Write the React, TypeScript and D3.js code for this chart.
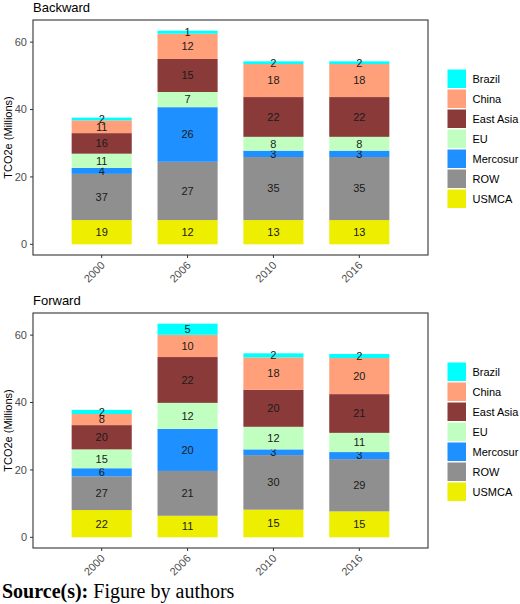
import React from 'react';
import * as d3 from 'd3';

const years = ['2000', '2006', '2010', '2016'];
const regions = ['Brazil', 'China', 'East Asia', 'EU', 'Mercosur', 'ROW', 'USMCA'];
const colors = ['#00FFFF', '#FFA07A', '#8B3A3A', '#C1FFC1', '#1E90FF', '#8F8F8F', '#EEEE00'];
const yTicks = [0, 20, 40, 60];

// TCO2e (millions) per region, per year: 2000, 2006, 2010, 2016
const backBrazil = [0.8, 0.9, 0.8, 0.8];
const backChina = [3.8, 7.5, 9.8, 9.8];
const backEastAsia = [6.1, 9.8, 11.8, 11.8];
const backEU = [4.2, 4.5, 4.1, 4.1];
const backMercosur = [1.8, 16.2, 1.9, 1.9];
const backROW = [13.7, 17.3, 18.7, 18.7];
const backUSMCA = [7.2, 7.2, 7.2, 7.2];

const fwdBrazil = [1.2, 3.3, 1.2, 1.2];
const fwdChina = [3.3, 6.6, 9.6, 10.7];
const fwdEastAsia = [7.2, 13.6, 11.0, 11.5];
const fwdEU = [5.6, 7.7, 6.7, 5.7];
const fwdMercosur = [2.4, 12.5, 1.7, 2.1];
const fwdROW = [10.0, 13.3, 16.2, 15.5];
const fwdUSMCA = [8.1, 6.4, 8.2, 7.7];

// share labels (%) printed in the segments
const backPctBrazil = [2, 1, 2, 2];
const backPctChina = [11, 12, 18, 18];
const backPctEastAsia = [16, 15, 22, 22];
const backPctEU = [11, 7, 8, 8];
const backPctMercosur = [4, 26, 3, 3];
const backPctROW = [37, 27, 35, 35];
const backPctUSMCA = [19, 12, 13, 13];

const fwdPctBrazil = [2, 5, 2, 2];
const fwdPctChina = [8, 10, 18, 20];
const fwdPctEastAsia = [20, 22, 20, 21];
const fwdPctEU = [15, 12, 12, 11];
const fwdPctMercosur = [6, 20, 3, 3];
const fwdPctROW = [27, 21, 30, 29];
const fwdPctUSMCA = [22, 11, 15, 15];

const backValues = [backBrazil, backChina, backEastAsia, backEU, backMercosur, backROW, backUSMCA];
const backPct = [backPctBrazil, backPctChina, backPctEastAsia, backPctEU, backPctMercosur, backPctROW, backPctUSMCA];
const fwdValues = [fwdBrazil, fwdChina, fwdEastAsia, fwdEU, fwdMercosur, fwdROW, fwdUSMCA];
const fwdPct = [fwdPctBrazil, fwdPctChina, fwdPctEastAsia, fwdPctEU, fwdPctMercosur, fwdPctROW, fwdPctUSMCA];

const font = '"Liberation Sans", Arial, sans-serif';

function Panel({ title, values, pct, top }) {
  const left = 33;
  const right = 428;
  const pTop = top + 20;
  const pBottom = top + 255;

  // one row per year, keyed by region
  const rows = years.map((y, i) => {
    const r = { year: y };
    regions.forEach((reg, k) => { r[reg] = values[k][i]; });
    return r;
  });
  // stack from bottom: USMCA first, Brazil last
  const stack = d3.stack().keys([...regions].reverse())(rows);
  const maxV = d3.max(rows, r => d3.sum(regions, k => r[k]));

  const x = d3.scaleBand().domain(years).range([left, right]).paddingInner(0.3).paddingOuter(0.45);
  const y = d3.scaleLinear().domain([-maxV * 0.05, maxV * 1.05]).range([pBottom, pTop]);

  const legendH = 20;
  const legendTop = (pTop + pBottom) / 2 - (regions.length * legendH) / 2 + 2;

  return (
    <g fontFamily={font}>
      <text x={left} y={top + 12} fontSize={13} fill="#000">{title}</text>
      {stack.map(layer => {
        const k = regions.indexOf(layer.key);
        return (
          <g key={layer.key}>
            {layer.map((d, i) => (
              <rect key={i} x={x(years[i])} width={x.bandwidth()} y={y(d[1])}
                height={y(d[0]) - y(d[1])} fill={colors[k]} />
            ))}
            {layer.map((d, i) => (
              <text key={'t' + i} x={x(years[i]) + x.bandwidth() / 2} y={y((d[0] + d[1]) / 2)}
                dy="0.35em" textAnchor="middle" fontSize={11} fill="#1a1a1a">{pct[k][i]}</text>
            ))}
          </g>
        );
      })}
      <rect x={left} y={pTop} width={right - left} height={pBottom - pTop} fill="none" stroke="#333" strokeWidth={1.1} />
      {yTicks.map(t => (
        <g key={t}>
          <line x1={left - 3} x2={left} y1={y(t)} y2={y(t)} stroke="#333" />
          <text x={left - 6} y={y(t)} dy="0.35em" textAnchor="end" fontSize={11} fill="#4d4d4d">{t}</text>
        </g>
      ))}
      {years.map(yr => {
        const cx = x(yr) + x.bandwidth() / 2;
        return (
          <g key={yr}>
            <line x1={cx} x2={cx} y1={pBottom} y2={pBottom + 3} stroke="#333" />
            <text transform={`translate(${cx + 4},${pBottom + 11}) rotate(-45)`} textAnchor="end"
              fontSize={11} fill="#4d4d4d">{yr}</text>
          </g>
        );
      })}
      <text transform={`translate(12,${(pTop + pBottom) / 2}) rotate(-90)`} textAnchor="middle"
        fontSize={11} fill="#000">TCO2e (Millions)</text>
      {regions.map((reg, k) => (
        <g key={reg}>
          <rect x={447.5} y={legendTop + k * legendH} width={18.5} height={18.5} fill={colors[k]} />
          <text x={472.5} y={legendTop + k * legendH + 9.5} dy="0.35em" fontSize={11} fill="#000">{reg}</text>
        </g>
      ))}
    </g>
  );
}

export default function App() {
  return (
    <svg width={520} height={604} style={{ position: 'absolute', left: 0, top: 0, background: '#fff' }}>
      <Panel title="Backward" values={backValues} pct={backPct} top={0} />
      <Panel title="Forward" values={fwdValues} pct={fwdPct} top={293} />
      <text x={2} y={598} fontFamily='"Liberation Serif", "Times New Roman", serif' fontSize={20} fill="#000">
        <tspan fontWeight="bold">Source(s):</tspan> Figure by authors
      </text>
    </svg>
  );
}
